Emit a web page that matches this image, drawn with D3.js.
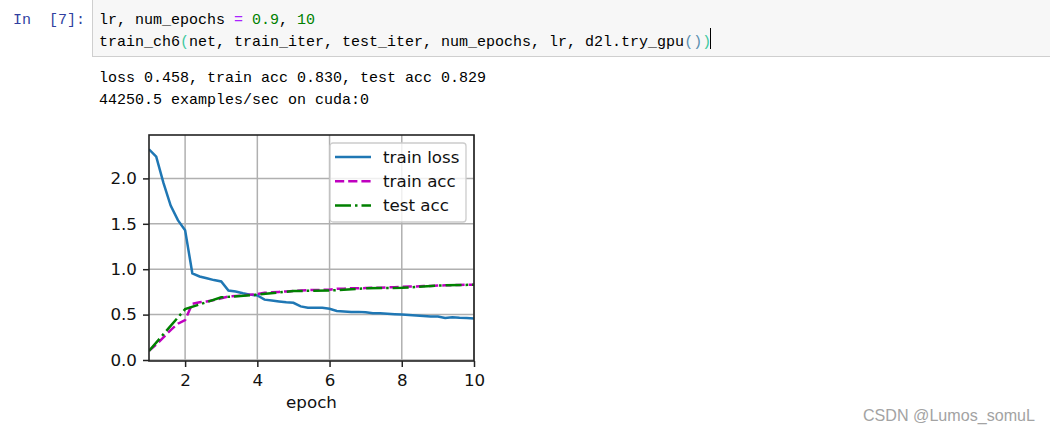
<!DOCTYPE html>
<html>
<head>
<meta charset="utf-8">
<script src="https://cdn.jsdelivr.net/npm/d3@7"></script>
<style>
  html, body { margin: 0; padding: 0; background: #fff; overflow: hidden; }
  svg { display: block; }
  .code { font-family: "Liberation Mono", monospace; font-size: 15px; white-space: pre; }
</style>
</head>
<body>
<div id="chart"></div>
<script>
// ── Datos ───────────────────────────────────────────────────────────────────
const trainEpochs = [1.0,1.2,1.4,1.6,1.8,2.0,2.2,2.4,2.6,2.8,3.0,3.2,3.4,3.6,3.8,4.0,4.2,4.4,4.6,4.8,
  5.0,5.2,5.4,5.6,5.8,6.0,6.2,6.4,6.6,6.8,7.0,7.2,7.4,7.6,7.8,8.0,8.2,8.4,8.6,8.8,9.0,9.2,9.4,9.6,9.8,10.0];
const trainLoss = [2.32,2.24,1.95,1.70,1.54,1.43,0.955,0.92,0.90,0.88,0.865,0.765,0.755,0.735,0.72,0.71,0.665,0.655,0.645,0.635,
  0.63,0.59,0.575,0.575,0.575,0.565,0.54,0.535,0.53,0.53,0.525,0.515,0.515,0.51,0.505,0.50,0.495,0.49,0.485,0.48,0.478,0.462,0.47,0.465,0.462,0.458];
const trainAcc = [0.10,0.17,0.25,0.33,0.40,0.44,0.62,0.635,0.645,0.66,0.68,0.70,0.705,0.71,0.72,0.725,0.74,0.745,0.75,0.755,
  0.76,0.765,0.77,0.77,0.772,0.775,0.785,0.785,0.79,0.79,0.792,0.795,0.797,0.80,0.80,0.805,0.81,0.81,0.815,0.815,0.82,0.822,0.825,0.826,0.828,0.83];
const testEpochs = [1,2,3,4,5,6,7,8,9,10];
const testAcc = [0.10,0.56,0.69,0.72,0.76,0.765,0.79,0.795,0.82,0.829];

const xTicks = [2,4,6,8,10];
const yTicks = [0,0.5,1,1.5,2];
const legendNames = ["train loss","train acc","test acc"];

const codeLine1 = [["lr, num_epochs ","#000"],["=","#aa22ff"],[" ","#000"],["0.9","#008000"],[", ","#000"],["10","#008000"]];
const codeLine2 = [["train_ch6","#000"],["(","#3fc9a0"],["net, train_iter, test_iter, num_epochs, lr, d2l.try_gpu","#000"],["()","#5b8fb0"],[")","#3fc9a0"]];
const outputLines = ["loss 0.458, train acc 0.830, test acc 0.829","44250.5 examples/sec on cuda:0"];

// ── SVG ─────────────────────────────────────────────────────────────────────
const width = 1050, height = 432;
const svg = d3.select("#chart").append("svg")
  .attr("width", width).attr("height", height)
  .attr("viewBox", [0, 0, width, height]);
svg.append("rect").attr("width", width).attr("height", height).attr("fill", "#fff");

// ── Celda del notebook ──────────────────────────────────────────────────────
svg.append("rect")
  .attr("x", 92.5).attr("y", -5).attr("width", 970).attr("height", 61.5)
  .attr("fill", "#f7f7f7").attr("stroke", "#cfcfcf");

svg.append("text").attr("class", "code")
  .attr("x", 13).attr("y", 24).attr("fill", "#303f9f")
  .text("In  [7]:");

function codeText(parts, y) {
  const t = svg.append("text").attr("class", "code").attr("x", 99).attr("y", y);
  t.selectAll("tspan").data(parts).join("tspan")
    .attr("fill", d => d[1])
    .text(d => d[0]);
}
codeText(codeLine1, 24);
codeText(codeLine2, 45.5);

svg.append("line")
  .attr("x1", 710.5).attr("x2", 710.5).attr("y1", 28).attr("y2", 49)
  .attr("stroke", "#000");

svg.selectAll("text.salida").data(outputLines).join("text")
  .attr("class", "code salida")
  .attr("x", 99).attr("y", (d, i) => 82 + i * 22)
  .attr("fill", "#000")
  .text(d => d);

// ── Escalas ─────────────────────────────────────────────────────────────────
const plot = { left: 149, right: 474, top: 135, bottom: 361 };
const x = d3.scaleLinear().domain([1, 10]).range([plot.left, plot.right]);
const y = d3.scaleLinear().domain([-0.011, 2.478]).range([plot.bottom, plot.top]);

const g = svg.append("g").style("font-family", "'DejaVu Sans', sans-serif");

// ── Rejilla ─────────────────────────────────────────────────────────────────
g.append("g").selectAll("line").data(xTicks).join("line")
  .attr("x1", d => x(d)).attr("x2", d => x(d))
  .attr("y1", plot.top).attr("y2", plot.bottom)
  .attr("stroke", "#b0b0b0").attr("stroke-width", 1.5);
g.append("g").selectAll("line").data(yTicks).join("line")
  .attr("x1", plot.left).attr("x2", plot.right)
  .attr("y1", d => y(d)).attr("y2", d => y(d))
  .attr("stroke", "#b0b0b0").attr("stroke-width", 1.5);

// ── Líneas ──────────────────────────────────────────────────────────────────
svg.append("clipPath").attr("id", "plotClip").append("rect")
  .attr("x", plot.left).attr("y", plot.top)
  .attr("width", plot.right - plot.left).attr("height", plot.bottom - plot.top);

const series = [
  { xs: trainEpochs, ys: trainLoss, color: "#1f77b4", dash: null },
  { xs: trainEpochs, ys: trainAcc, color: "#bf00bf", dash: "9.2,4" },
  { xs: testEpochs, ys: testAcc, color: "#008000", dash: "16,4,2.5,4" }
];
const line = d3.line().x(d => x(d[0])).y(d => y(d[1]));

g.append("g").attr("clip-path", "url(#plotClip)")
  .selectAll("path").data(series).join("path")
  .attr("d", s => line(d3.zip(s.xs, s.ys)))
  .attr("fill", "none")
  .attr("stroke", s => s.color)
  .attr("stroke-width", 2.5)
  .attr("stroke-dasharray", s => s.dash);

// ── Ejes ────────────────────────────────────────────────────────────────────
const xAxis = g.append("g")
  .attr("transform", `translate(0,${plot.bottom})`)
  .call(d3.axisBottom(x).tickValues(xTicks).tickFormat(d3.format("d")).tickSize(6).tickPadding(7));
const yAxis = g.append("g")
  .attr("transform", `translate(${plot.left},0)`)
  .call(d3.axisLeft(y).tickValues(yTicks).tickFormat(d3.format(".1f")).tickSize(6).tickPadding(6));

[xAxis, yAxis].forEach(a => {
  a.select(".domain").remove();
  a.selectAll("line").attr("stroke", "#222").attr("stroke-width", 1.5);
  a.selectAll("text").attr("fill", "#111").style("font-size", "16.7px").style("font-family", "'DejaVu Sans', sans-serif");
});

g.append("rect")
  .attr("x", plot.left).attr("y", plot.top)
  .attr("width", plot.right - plot.left).attr("height", plot.bottom - plot.top)
  .attr("fill", "none").attr("stroke", "#222").attr("stroke-width", 1.6);

g.append("text")
  .attr("x", (plot.left + plot.right) / 2).attr("y", 408)
  .attr("text-anchor", "middle")
  .style("font-size", "16.7px").attr("fill", "#111")
  .text("epoch");

// ── Leyenda ─────────────────────────────────────────────────────────────────
const legend = g.append("g").attr("transform", "translate(330,143)");
legend.append("rect")
  .attr("width", 136).attr("height", 79).attr("rx", 3)
  .attr("fill", "#fff").attr("fill-opacity", 0.8)
  .attr("stroke", "#ccc").attr("stroke-width", 1.3);
const item = legend.selectAll("g").data(legendNames).join("g")
  .attr("transform", (d, i) => `translate(0,${14 + i * 24.3})`);
item.append("line")
  .attr("x1", 5).attr("x2", 41)
  .attr("stroke", (d, i) => series[i].color)
  .attr("stroke-width", 2.5)
  .attr("stroke-dasharray", (d, i) => series[i].dash);
item.append("text")
  .attr("x", 53).attr("y", 5.5)
  .style("font-size", "16.7px").attr("fill", "#111")
  .text(d => d);

// ── Marca de agua ───────────────────────────────────────────────────────────
svg.append("text")
  .attr("x", 863).attr("y", 421)
  .style("font-family", "'Liberation Sans', sans-serif")
  .style("font-size", "16.1px")
  .attr("fill", "#a3a3a3")
  .text("CSDN @Lumos_somuL");
</script>
</body>
</html>
